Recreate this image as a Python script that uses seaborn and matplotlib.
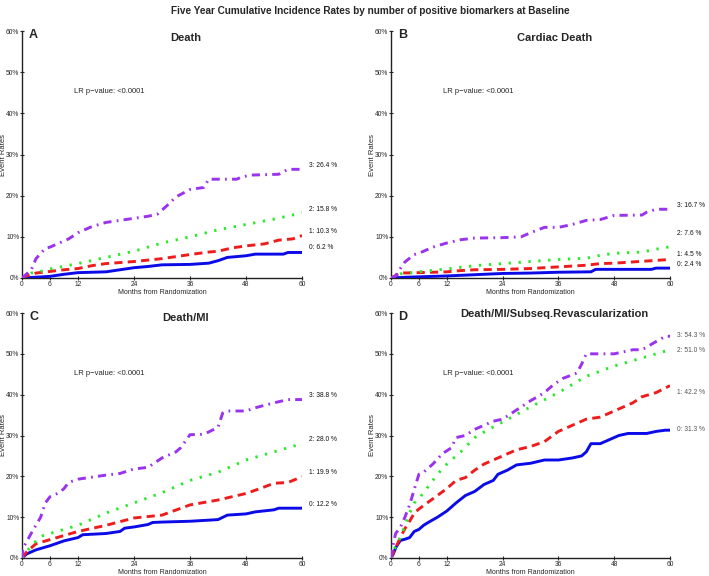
import numpy as np
import pandas as pd
import matplotlib
matplotlib.use("Agg")
import matplotlib.pyplot as plt
import seaborn as sns
from matplotlib.ticker import PercentFormatter

sns.set_style("ticks")
plt.rcParams['font.family'] = ['Liberation Sans', 'DejaVu Sans']

# ---------------- data (event rate % vs months) ----------------
panel_letters = ["A", "B", "C", "D"]
panel_titles = ["Death", "Cardiac Death", "Death/MI", "Death/MI/Subseq.Revascularization"]
groups = ["0", "1", "2", "3"]

# Panel A: Death
a0_x = [0, 3, 6, 9, 12, 18, 21, 24, 27, 30, 36, 40, 42, 44, 48, 50, 56, 57, 60]
a0_y = [0, 0.2, 0.4, 0.9, 1.3, 1.5, 2.0, 2.5, 2.8, 3.2, 3.3, 3.6, 4.2, 5.0, 5.4, 5.8, 5.8, 6.2, 6.2]
a1_x = [0, 1, 3, 6, 9, 12, 15, 18, 24, 30, 36, 40, 42, 45, 48, 52, 55, 58, 60]
a1_y = [0, 0.5, 1.2, 1.6, 2.0, 2.3, 3.0, 3.5, 4.0, 4.7, 5.7, 6.3, 6.5, 7.3, 7.8, 8.3, 9.2, 9.5, 10.3]
a2_x = [0, 2, 4, 6, 12, 18, 24, 30, 36, 42, 48, 54, 60]
a2_y = [0, 1.2, 1.6, 2.2, 3.5, 5.0, 6.5, 8.5, 10.0, 11.7, 13.0, 14.3, 15.8]
a3_x = [0, 2, 3, 5, 6, 8, 10, 12, 15, 18, 21, 24, 27, 29, 31, 33, 36, 39, 40, 46, 47, 49, 55, 57, 60]
a3_y = [0, 2.0, 4.7, 7.2, 7.5, 8.5, 9.5, 11.0, 12.5, 13.5, 14.0, 14.5, 15.0, 15.5, 17.5, 19.7, 21.5, 22.0, 24.0, 24.0, 24.5, 25.0, 25.2, 26.4, 26.4]

# Panel B: Cardiac Death
b0_x = [0, 3.5, 12, 18, 24, 30, 36, 43, 44, 56, 57, 60]
b0_y = [0, 0.2, 0.5, 0.8, 1.1, 1.2, 1.4, 1.5, 2.1, 2.1, 2.4, 2.4]
b1_x = [0, 1, 2, 6, 9, 12, 15, 18, 24, 30, 36, 42, 45, 48, 52, 56, 60]
b1_y = [0, 0.6, 1.2, 1.3, 1.4, 1.5, 1.8, 2.0, 2.1, 2.3, 2.7, 3.1, 3.5, 3.6, 3.9, 4.2, 4.5]
b2_x = [0, 2, 6, 12, 18, 24, 30, 36, 42, 45, 48, 54, 57, 60]
b2_y = [0, 1.0, 1.5, 2.2, 3.0, 3.5, 4.0, 4.5, 4.8, 5.5, 6.0, 6.3, 7.0, 7.6]
b3_x = [0, 1, 1.5, 3, 5, 6, 9, 12, 15, 18, 24, 28, 30, 33, 36, 39, 42, 45, 48, 54, 55, 57, 60]
b3_y = [0, 0.5, 1.5, 3.9, 5.7, 6.0, 7.5, 8.5, 9.3, 9.7, 9.8, 10.0, 11.0, 12.3, 12.3, 13.0, 14.0, 14.2, 15.2, 15.3, 16.0, 16.7, 16.7]

# Panel C: Death/MI
c0_x = [0, 1, 3, 6, 9, 12, 13, 18, 21, 22, 24, 27, 28, 30, 36, 42, 44, 48, 50, 54, 55, 60]
c0_y = [0, 1.0, 2.0, 3.0, 4.2, 5.0, 5.7, 6.0, 6.5, 7.3, 7.6, 8.2, 8.7, 8.8, 9.0, 9.4, 10.5, 10.8, 11.3, 11.8, 12.2, 12.2]
c1_x = [0, 1, 3, 6, 9, 12, 18, 24, 30, 36, 42, 45, 48, 51, 54, 57, 60]
c1_y = [0, 1.5, 3.5, 4.5, 5.5, 6.5, 8.0, 9.8, 10.5, 13.0, 14.2, 15.0, 15.8, 17.0, 18.3, 18.5, 19.9]
c2_x = [0, 2, 4, 6, 9, 12, 18, 24, 30, 36, 42, 48, 54, 60]
c2_y = [0, 3.0, 5.3, 6.0, 7.0, 8.0, 11.0, 13.5, 16.0, 19.0, 21.0, 24.0, 26.0, 28.0]
c3_x = [0, 0.2, 1, 2, 4, 5, 6, 7, 8, 9, 10, 12, 15, 18, 21, 24, 27, 30, 33, 34, 36, 39, 42, 43, 44, 48, 50, 54, 57, 60]
c3_y = [0, 2.4, 4.0, 6.1, 10.0, 13.5, 15.0, 15.5, 16.0, 17.0, 18.5, 19.3, 19.8, 20.3, 20.7, 21.8, 22.2, 24.5, 26.0, 27.0, 30.2, 30.3, 32.0, 35.5, 36.0, 36.0, 36.8, 38.0, 38.8, 38.8]

# Panel D: Death/MI/Subseq.Revascularization
d0_x = [0, 0.5, 1, 2, 3, 4, 5, 6, 7, 8, 10, 12, 14, 16, 18, 20, 22, 23, 25, 27, 30, 33, 36, 39, 41, 42, 43, 45, 47, 49, 51, 55, 57, 59, 60]
d0_y = [0, 1.0, 2.5, 4.3, 4.6, 5.0, 6.5, 7.0, 8.0, 8.7, 10.0, 11.5, 13.5, 15.3, 16.3, 18.0, 19.0, 20.5, 21.5, 22.8, 23.2, 24.0, 24.0, 24.5, 25.0, 26.0, 28.0, 28.0, 29.0, 30.0, 30.5, 30.5, 31.0, 31.3, 31.3]
d1_x = [0, 1, 2, 3, 4, 5, 6, 9, 12, 14, 16, 18, 20, 24, 27, 30, 33, 36, 39, 42, 45, 48, 52, 54, 57, 60]
d1_y = [0, 2.5, 5.0, 7.2, 9.0, 11.0, 12.0, 14.5, 17.0, 19.0, 19.7, 21.5, 23.0, 25.0, 26.5, 27.3, 28.5, 31.0, 32.5, 34.0, 34.5, 36.0, 38.0, 39.5, 40.5, 42.2]
d2_x = [0, 1, 2, 3, 4, 5, 6, 8, 10, 12, 15, 18, 21, 24, 30, 36, 42, 48, 54, 57, 60]
d2_y = [0, 3.0, 5.0, 8.0, 11.0, 13.5, 14.5, 17.5, 20.5, 23.0, 26.0, 29.5, 31.5, 33.3, 37.0, 40.5, 44.5, 47.0, 49.0, 50.0, 51.0]
d3_x = [0, 0.5, 1, 2, 3, 4, 5, 6, 7, 9, 11, 13, 14, 16, 18, 20, 22, 24, 26, 28, 30, 33, 35, 37, 40, 41, 42, 48, 50, 52, 54, 57, 59, 60]
d3_y = [0, 3.5, 6.0, 7.5, 10.0, 13.0, 16.8, 20.5, 21.0, 23.0, 25.5, 27.0, 29.5, 30.0, 31.5, 32.5, 33.5, 34.0, 35.5, 37.0, 38.5, 40.5, 42.5, 44.0, 45.3, 47.5, 50.0, 50.0, 50.5, 51.0, 51.0, 53.0, 54.3, 54.3]

# end-of-curve labels (5-year rates)
a_final = ["6.2", "10.3", "15.8", "26.4"]
b_final = ["2.4", "4.5", "7.6", "16.7"]
c_final = ["12.2", "19.9", "28.0", "38.8"]
d_final = ["31.3", "42.2", "51.0", "54.3"]

x_ticks = [0, 6, 12, 24, 36, 48, 60]
y_ticks = [0, 10, 20, 30, 40, 50, 60]

panels = [
    [(a0_x, a0_y), (a1_x, a1_y), (a2_x, a2_y), (a3_x, a3_y)],
    [(b0_x, b0_y), (b1_x, b1_y), (b2_x, b2_y), (b3_x, b3_y)],
    [(c0_x, c0_y), (c1_x, c1_y), (c2_x, c2_y), (c3_x, c3_y)],
    [(d0_x, d0_y), (d1_x, d1_y), (d2_x, d2_y), (d3_x, d3_y)],
]
finals = [a_final, b_final, c_final, d_final]

# ---------------- styling / layout ----------------
colors = ["#0B0BE8", "#EE1C1C", "#2EE82E", "#9A33EE"]
styles = ["-", (0, (2.8, 1.8)), (0, (0.8, 2.6)), (0, (2.8, 1.8, 0.6, 1.8))]
label_y = [
    [7.3, 11.4, 16.7, 27.4],
    [3.4, 5.6, 10.9, 17.5],
    [13.0, 20.9, 28.9, 39.9],
    [31.5, 40.5, 50.7, 54.4],
]
title_y = [0.972, 0.972, 0.978, 0.995]
axes_rects = [
    [22 / 709, 1 - 278 / 576, 280 / 709, 247 / 576],
    [391 / 709, 1 - 278 / 576, 279 / 709, 247 / 576],
    [22 / 709, 1 - 558 / 576, 280 / 709, 245 / 576],
    [391 / 709, 1 - 558 / 576, 279 / 709, 245 / 576],
]

fig = plt.figure(figsize=(7.09, 5.76), dpi=100)
fig.patch.set_facecolor("white")
fig.text(0.522, 0.99, "Five Year Cumulative Incidence Rates by number of positive biomarkers at Baseline",
         ha="center", va="top", fontsize=7.2, fontweight="bold")

for i, rect in enumerate(axes_rects):
    ax = fig.add_axes(rect)
    for g, (xs, ys) in enumerate(panels[i]):
        df = pd.DataFrame({"Months": xs, "Rate": ys})
        sns.lineplot(data=df, x="Months", y="Rate", ax=ax, color=colors[g],
                     linestyle=styles[g], linewidth=2.1, dash_capstyle="butt",
                     solid_capstyle="butt", zorder=3 + g)
    ax.set_xlim(0, 60)
    ax.set_ylim(0, 60)
    ax.set_xticks(x_ticks)
    ax.set_yticks(y_ticks)
    ax.yaxis.set_major_formatter(PercentFormatter(decimals=0))
    ax.tick_params(axis="both", labelsize=4.8, length=3, width=0.8, direction="inout", pad=0.5)
    for s in ["top", "right"]:
        ax.spines[s].set_visible(False)
    for s in ["left", "bottom"]:
        ax.spines[s].set_linewidth(1.0)
        ax.spines[s].set_color("#222222")
    ax.set_xlabel("Months from Randomization", fontsize=5)
    ax.set_ylabel("Event Rates", fontsize=5.5)
    ax.xaxis.set_label_coords(0.5, -0.045)
    ax.yaxis.set_label_coords(-0.052, 0.5)
    ax.patch.set_alpha(0)
    ax.text(0.025, 0.985, panel_letters[i], transform=ax.transAxes, fontsize=9,
            fontweight="bold", ha="left", va="center")
    ax.text(0.585, title_y[i], panel_titles[i], transform=ax.transAxes, fontsize=8,
            fontweight="bold", ha="center", va="center")
    ax.text(0.185, 0.755, "LR p\u2212value: <0.0001", transform=ax.transAxes,
            fontsize=5.5, ha="left", va="center")
    for g in range(4):
        ax.text(61.6, label_y[i][g], f"{groups[g]}: {finals[i][g]} %", fontsize=4.8,
                ha="left", va="center", clip_on=False,
                color="#555555" if i == 3 else "#111111")

fig.savefig("out.png", dpi=100, facecolor="white")
